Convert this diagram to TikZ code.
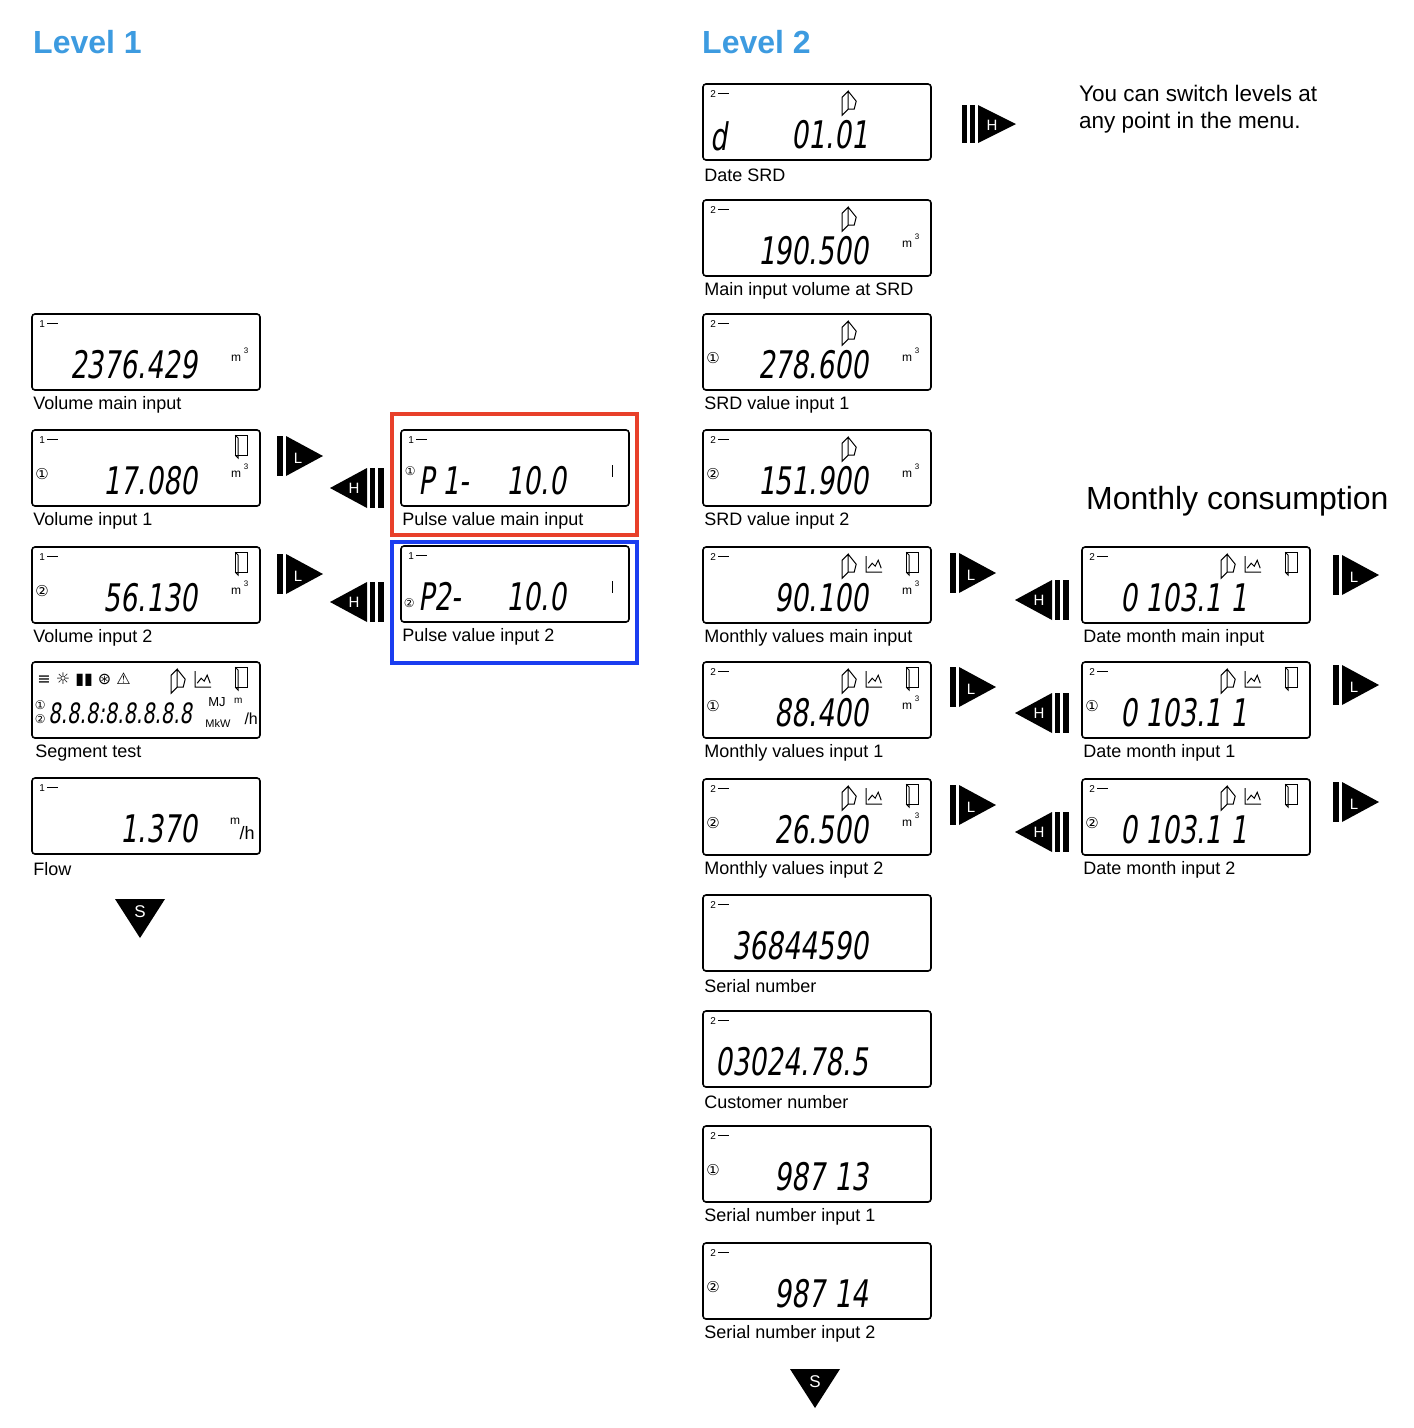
\documentclass[tikz,border=0pt]{standalone}
\usepackage{fontspec}
\setmainfont{Liberation Sans}
\newfontfamily\lcdf{DejaVu Sans}[FakeSlant=0.15,FakeStretch=0.7]
\newfontfamily\symf{DejaVu Sans}
\usetikzlibrary{calc}
\definecolor{lvblue}{HTML}{3D9BE0}
\definecolor{fred}{HTML}{E8402A}
\definecolor{fblue}{HTML}{1A3DF0}
\tikzset{
 lcd/.style={draw,line width=1.6pt,rounded corners=3pt,minimum width=228pt,minimum height=76pt,inner sep=0},
 dig/.style={font=\lcdf\fontsize{38}{38}\selectfont,anchor=east,inner sep=0},
 lab/.style={font=\fontsize{18}{18}\selectfont,anchor=west,inner sep=0},
 small/.style={font=\fontsize{12}{12}\selectfont,inner sep=0},
 circ/.style={font=\symf\fontsize{15}{15}\selectfont,inner sep=0},
 icon/.style={line width=1pt},
 title/.style={font=\bfseries\fontsize{32}{32}\selectfont,text=lvblue,anchor=west,inner sep=0}
}
% #1 name #2 x #3 y #4 level #5 digits #6 circle #7 label
\newcommand\lcd[7]{%
 \node[lcd] (#1) at (#2+114,#3+38) {};
 \node[small,anchor=west,font=\fontsize{10}{10}\selectfont] at ($(#1.north west)+(8,11)$) {#4};
 \draw[line width=1.3pt] ($(#1.north west)+(16,10)$) -- ++(11,0);
 \node[dig] at ($(#1.north west)+(166,51)$) {#5};
 \node[circ] at ($(#1.north west)+(11,45)$) {#6};
 \node[lab] at ($(#1.north west)+(2,92)$) {#7};
}
\newcommand\mthree[1]{\node[small] at ($(#1.north west)+(205,45)$) {m};\node[small,font=\fontsize{8}{8}\selectfont] at ($(#1.north west)+(215,38)$) {3};}
\newcommand\flagI[1]{\draw[icon] ($(#1.north west)+(140,14)$) -- ++(6,-6) -- ++(0,18) -- ++(-6,6) -- cycle ($(#1.north west)+(146,8)$) -- ++(8,10) -- ++(-2,8) -- ++(-6,0);}
\newcommand\chartI[1]{\draw[icon] ($(#1.north west)+(164,10)$) -- ++(0,16) -- ++(16,0) ($(#1.north west)+(166,22)$) -- ++(4,-5) -- ++(3,3) -- ++(3,-6) -- ++(3,8);}
\newcommand\doorI[1]{\draw[icon] ($(#1.north west)+(204,6)$) rectangle ++(12,20); \draw[icon] ($(#1.north west)+(204,6)$) -- ++(3,3) -- ++(0,20) -- ++(-3,-3);}
\tikzset{
 Larr/.pic={\fill (0,0) rectangle (6,40); \fill (9,0) -- (9,40) -- (46,20) -- cycle; \node[text=white,font=\fontsize{15}{15}\selectfont] at (21,22) {L};},
 Harr/.pic={\fill (0,20) -- (37,0) -- (37,40) -- cycle; \fill (40,0) rectangle (45,40); \fill (48,0) rectangle (54,40); \node[text=white,font=\fontsize{15}{15}\selectfont] at (24,20) {H};},
 HRarr/.pic={\fill (0,0) rectangle (5,38); \fill (8,0) rectangle (13,38); \fill (16,0) -- (16,38) -- (54,19) -- cycle; \node[text=white,font=\fontsize{15}{15}\selectfont] at (30,20) {H};},
 Sarr/.pic={\fill (-25,-16) -- (25,-16) -- (0,23) -- cycle; \node[text=white,font=\fontsize{17}{17}\selectfont] at (0,-3) {S};}
}
\begin{document}
\begin{tikzpicture}[x=1pt,y=-1pt]
\useasboundingbox (0,0) rectangle (1414,1428);
\node[title] (t1) at (33,42) {Level 1};
\node[title] (t2) at (702,42) {Level 2};
% Level 1
\lcd{a1}{32}{314}{1}{2376.429}{}{Volume main input}\mthree{a1}
\lcd{a2}{32}{430}{1}{17.080}{①}{Volume input 1}\mthree{a2}\doorI{a2}
\lcd{a3}{32}{547}{1}{56.130}{②}{Volume input 2}\mthree{a3}\doorI{a3}
\node[lcd] (a4) at (146,700) {};
\node[lab] at ($(a4.north west)+(4,92)$) {Segment test};
\node[inner sep=0,anchor=west,font=\symf\fontsize{16}{16}\selectfont] at ($(a4.north west)+(6,18)$) {≡ ☼ ▮▮ ⊛ ⚠};
\flagI{a4}\chartI{a4}\doorI{a4}
\node[circ,font=\symf\fontsize{12}{12}\selectfont] at ($(a4.north west)+(9,44)$) {①};
\node[circ,font=\symf\fontsize{12}{12}\selectfont] at ($(a4.north west)+(9,58)$) {②};
\node[dig,anchor=west,font=\lcdf\fontsize{28}{28}\selectfont] at ($(a4.north west)+(17,52)$) {8.8.8:8.8.8.8.8};
\node[small,anchor=west,font=\fontsize{13}{13}\selectfont] at ($(a4.north west)+(177,41)$) {MJ};
\node[small,anchor=west,font=\fontsize{11}{11}\selectfont] at ($(a4.north west)+(174,62)$) {MkW};
\node[small,font=\fontsize{10}{10}\selectfont] at ($(a4.north west)+(207,40)$) {m};
\node[small,font=\fontsize{16}{16}\selectfont] at ($(a4.north west)+(220,58)$) {/h};
\lcd{a5}{32}{778}{1}{1.370}{}{Flow}
\node[small] at ($(a5.north west)+(204,44)$) {m};\node[small,font=\fontsize{18}{18}\selectfont] at ($(a5.north west)+(216,56)$) {/h};
\pic at (140,915) {Sarr};
\pic at (277,436) {Larr};\pic at (277,554) {Larr};
\pic at (330,468) {Harr};\pic at (330,582) {Harr};
% pulse
\node[draw=fred,line width=3.5pt,minimum width=245pt,minimum height=121pt,inner sep=0] (fr) at (514.5,474.5) {};
\node[draw=fblue,line width=3.5pt,minimum width=245pt,minimum height=121pt,inner sep=0] (fb) at (514.5,602.5) {};
\lcd{p1}{401}{430}{1}{10.0}{}{Pulse value main input}
\node[dig,anchor=west] at ($(p1.north west)+(18,51)$) {P 1-};
\node[circ,font=\symf\fontsize{12}{12}\selectfont] at ($(p1.north west)+(10,42)$) {①};
\draw[line width=1pt] ($(p1.north west)+(212,36)$) -- ++(0,12);
\lcd{p2}{401}{546}{1}{10.0}{}{Pulse value input 2}
\node[dig,anchor=west] at ($(p2.north west)+(18,51)$) {P2-};
\node[circ,font=\symf\fontsize{12}{12}\selectfont] at ($(p2.north west)+(9,58)$) {②};
\draw[line width=1pt] ($(p2.north west)+(212,36)$) -- ++(0,12);
% Level 2
\lcd{b1}{703}{84}{2}{01.01}{}{Date SRD}\flagI{b1}
\node[dig,anchor=west] at ($(b1.north west)+(8,53)$) {d};
\lcd{b2}{703}{200}{2}{190.500}{}{Main input volume at SRD}\flagI{b2}\mthree{b2}
\lcd{b3}{703}{314}{2}{278.600}{①}{SRD value input 1}\flagI{b3}\mthree{b3}
\lcd{b4}{703}{430}{2}{151.900}{②}{SRD value input 2}\flagI{b4}\mthree{b4}
\lcd{b5}{703}{547}{2}{90.100}{}{Monthly values main input}\flagI{b5}\chartI{b5}\doorI{b5}\mthree{b5}
\lcd{b6}{703}{662}{2}{88.400}{①}{Monthly values input 1}\flagI{b6}\chartI{b6}\doorI{b6}\mthree{b6}
\lcd{b7}{703}{779}{2}{26.500}{②}{Monthly values input 2}\flagI{b7}\chartI{b7}\doorI{b7}\mthree{b7}
\lcd{b8}{703}{895}{2}{36844590}{}{Serial number}
\lcd{b9}{703}{1011}{2}{03024.78.5}{}{Customer number}
\lcd{b10}{703}{1126}{2}{987 13}{①}{Serial number input 1}
\lcd{b11}{703}{1243}{2}{987 14}{②}{Serial number input 2}
\pic at (815,1385) {Sarr};
\pic at (962,105) {HRarr};
\node[lab,anchor=north west,align=left,font=\fontsize{22.5}{27}\selectfont] (sw) at (1079,85) {You can switch levels at\\any point in the menu.};
\node[lab,font=\fontsize{32}{32}\selectfont] (mc) at (1086,501) {Monthly consumption};
\lcd{c1}{1082}{547}{2}{0 103.1 1}{}{Date month main input}\flagI{c1}\chartI{c1}\doorI{c1}
\lcd{c2}{1082}{662}{2}{0 103.1 1}{①}{Date month input 1}\flagI{c2}\chartI{c2}\doorI{c2}
\lcd{c3}{1082}{779}{2}{0 103.1 1}{②}{Date month input 2}\flagI{c3}\chartI{c3}\doorI{c3}
\pic at (950,553) {Larr};\pic at (950,667) {Larr};\pic at (950,785) {Larr};
\pic at (1015,580) {Harr};\pic at (1015,693) {Harr};\pic at (1015,812) {Harr};
\pic at (1333,555) {Larr};\pic at (1333,665) {Larr};\pic at (1333,782) {Larr};
\end{tikzpicture}
\end{document}
